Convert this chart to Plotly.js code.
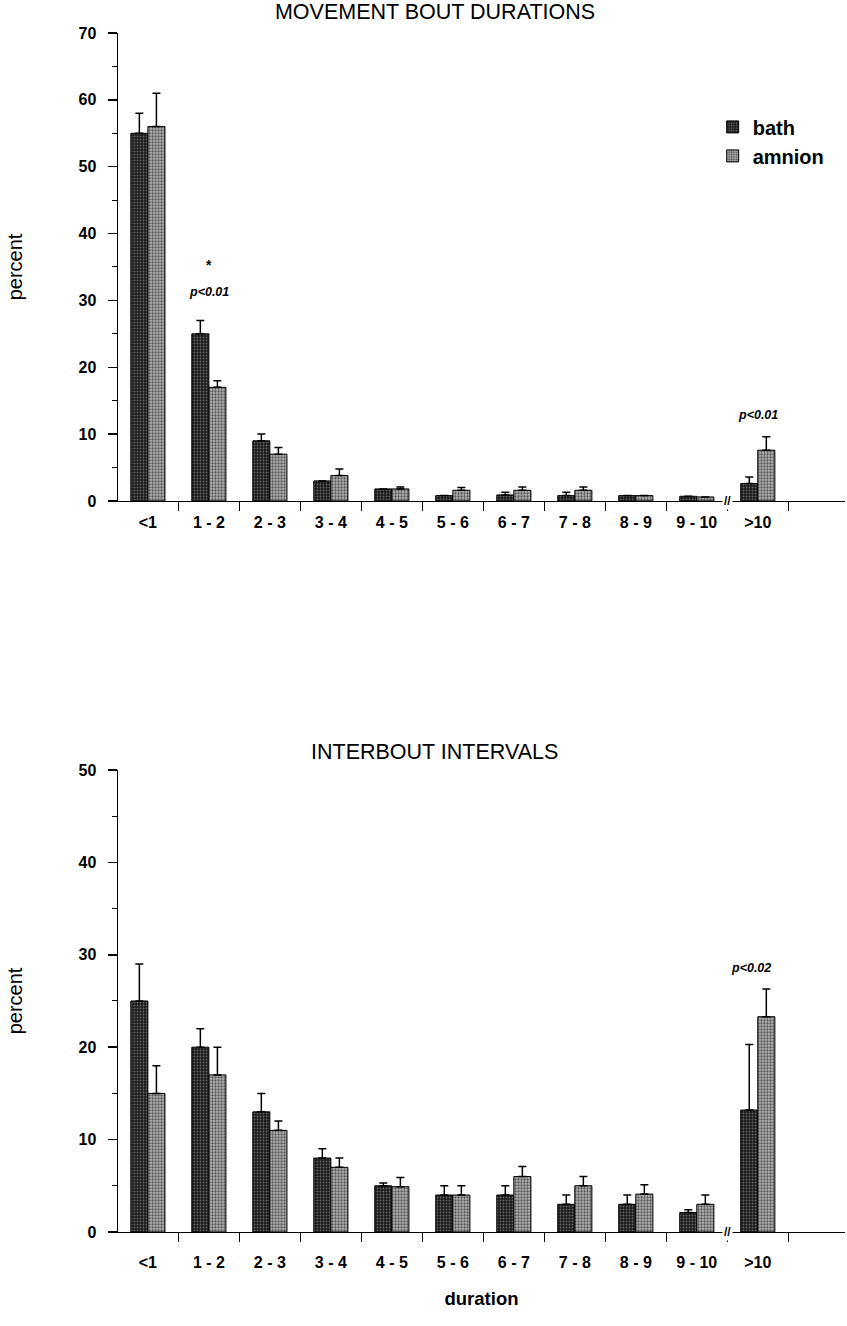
<!DOCTYPE html>
<html>
<head>
<meta charset="utf-8">
<script src="https://cdn.plot.ly/plotly-3.0.1.min.js"></script>
<style>html,body{margin:0;padding:0;background:#fff;}#chart{width:847px;height:1326px;}</style>
</head>
<body>
<div id="chart"></div>
<script>
const categories = ['<1','1 - 2','2 - 3','3 - 4','4 - 5','5 - 6','6 - 7','7 - 8','8 - 9','9 - 10','>10'];

// Movement bout durations (percent)
const boutBath      = [55, 25, 9, 3, 1.8, 0.8, 0.9, 0.8, 0.8, 0.7, 2.6];
const boutBathErr   = [3, 2, 1, 0, 0, 0, 0.4, 0.5, 0, 0, 1];
const boutAmnion    = [56, 17, 7, 3.8, 1.8, 1.6, 1.6, 1.6, 0.8, 0.6, 7.6];
const boutAmnionErr = [5, 1, 1, 1, 0.3, 0.4, 0.5, 0.5, 0, 0, 2];

// Interbout intervals (percent)
const intBath      = [25, 20, 13, 8, 5, 4, 4, 3, 3, 2.1, 13.2];
const intBathErr   = [4, 2, 2, 1, 0.3, 1, 1, 1, 1, 0.3, 7.1];
const intAmnion    = [15, 17, 11, 7, 4.9, 4, 6, 5, 4.1, 3, 23.3];
const intAmnionErr = [3, 3, 1, 1, 1, 1, 1.1, 1, 1, 1, 3];

const seriesNames = ['bath', 'amnion'];
const FONT = 'Liberation Sans, Arial, Helvetica, sans-serif';

const bathMarker = {
  color: '#222',
  line: {color: '#000', width: 1},
  pattern: {shape: '.', fgcolor: '#666', bgcolor: '#1a1a1a', size: 3, solidity: 0.3}
};
const amnionMarker = {
  color: '#999',
  line: {color: '#000', width: 1},
  pattern: {shape: '.', fgcolor: '#555', bgcolor: '#b5b5b5', size: 3, solidity: 0.45}
};
function errs(arr) {
  return {type: 'data', array: arr, arrayminus: arr.map(() => 0), symmetric: false,
          color: '#000', thickness: 1.5, width: 4};
}

const traces = [
  {type: 'bar', x: categories, y: boutBath, name: seriesNames[0], marker: bathMarker,
   error_y: errs(boutBathErr), xaxis: 'x', yaxis: 'y', legendgroup: 'a'},
  {type: 'bar', x: categories, y: boutAmnion, name: seriesNames[1], marker: amnionMarker,
   error_y: errs(boutAmnionErr), xaxis: 'x', yaxis: 'y', legendgroup: 'b'},
  {type: 'bar', x: categories, y: intBath, name: seriesNames[0], marker: bathMarker,
   error_y: errs(intBathErr), xaxis: 'x2', yaxis: 'y2', showlegend: false},
  {type: 'bar', x: categories, y: intAmnion, name: seriesNames[1], marker: amnionMarker,
   error_y: errs(intAmnionErr), xaxis: 'x2', yaxis: 'y2', showlegend: false}
];

const tickFont = {family: FONT, size: 16, color: '#000', weight: 'bold'};
function xAxis(anchor, standoff) {
  return {
    anchor: anchor, domain: [0, 1], type: 'category', range: [-0.49, 11.43],
    showline: true, linecolor: '#000', linewidth: 1.5,
    ticks: 'outside', ticklen: 9, tickwidth: 1.5, tickcolor: '#000', tickson: 'boundaries',
    tickfont: tickFont, ticklabelstandoff: standoff,
    showgrid: false, zeroline: false, fixedrange: true
  };
}
function yAxis(anchor, domain, max) {
  return {
    anchor: anchor, domain: domain, range: [0, max], dtick: 10, tick0: 0,
    showline: true, linecolor: '#000', linewidth: 1.5,
    ticks: 'outside', ticklen: 9, tickwidth: 1.5, tickcolor: '#000',
    minor: {dtick: 5, ticks: 'outside', ticklen: 5, tickwidth: 1, tickcolor: '#000', showgrid: false},
    tickfont: tickFont, ticklabelstandoff: 8,
    showgrid: false, zeroline: false, fixedrange: true,
    title: {text: 'percent', font: {family: FONT, size: 20, color: '#000'}, standoff: 50}
  };
}

const xa2 = xAxis('y2', 15);
xa2.title = {text: 'duration', font: {family: FONT, size: 18.5, color: '#000', weight: 'bold'}, standoff: 22};

const layout = {
  width: 847, height: 1326,
  margin: {l: 118, r: 2, t: 0, b: 0},
  paper_bgcolor: '#fff', plot_bgcolor: '#fff',
  barmode: 'group', bargap: 0.44, bargroupgap: 0,
  font: {family: FONT, color: '#000'},
  title: {text: 'MOVEMENT BOUT DURATIONS', x: 0.5136, y: 0.991, xanchor: 'center', yanchor: 'middle',
          font: {family: FONT, size: 21.5, color: '#000'}},
  xaxis: xAxis('y', 6),
  yaxis: yAxis('x', [0.6222, 0.9751], 70),
  xaxis2: xa2,
  yaxis2: yAxis('x2', [0.0709, 0.4193], 50),
  showlegend: true,
  legend: {x: 0.818, y: 0.919, xanchor: 'left', yanchor: 'top', bgcolor: 'rgba(0,0,0,0)',
           font: {family: FONT, size: 20, color: '#000', weight: 'bold'}, tracegroupgap: 12, traceorder: 'normal'},
  annotations: [
    {text: 'INTERBOUT INTERVALS', xref: 'paper', yref: 'paper', x: 0.436, y: 0.4329,
     xanchor: 'center', yanchor: 'middle', showarrow: false, font: {family: FONT, size: 21.5, color: '#000'}},
    {text: '*', xref: 'x', yref: 'y', x: categories[1], y: 35.3, showarrow: false,
     font: {family: FONT, size: 14, color: '#000', weight: 'bold'}},
    {text: '<i><b>p<0.01</b></i>', xref: 'x', yref: 'y', x: categories[1], y: 31.2, showarrow: false,
     font: {family: FONT, size: 12.5, color: '#000'}},
    {text: '<i><b>p<0.01</b></i>', xref: 'x', yref: 'y', x: categories[10], y: 12.9, showarrow: false,
     font: {family: FONT, size: 12.5, color: '#000'}},
    {text: '<i><b>p<0.02</b></i>', xref: 'x2', yref: 'y2', x: categories[10], y: 28.6, xshift: -7, showarrow: false,
     font: {family: FONT, size: 12.5, color: '#000'}},
    {text: '<b>//</b>', xref: 'x', yref: 'y', x: 9.5, y: 0, showarrow: false, bgcolor: '#fff',
     font: {family: FONT, size: 12, color: '#000'}},
    {text: '<b>//</b>', xref: 'x2', yref: 'y2', x: 9.5, y: 0, showarrow: false, bgcolor: '#fff',
     font: {family: FONT, size: 12, color: '#000'}}
  ]
};

Plotly.newPlot('chart', traces, layout, {displayModeBar: false, staticPlot: true});
</script>
</body>
</html>
